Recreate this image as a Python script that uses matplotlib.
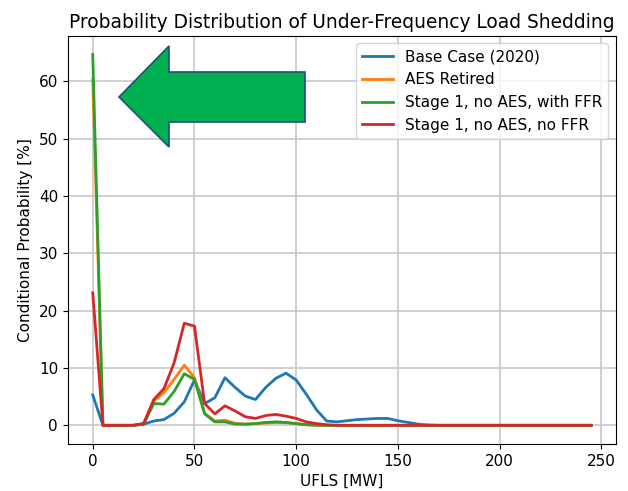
import matplotlib
matplotlib.use('Agg')
import matplotlib.pyplot as plt
from matplotlib.patches import Polygon

ufls = list(range(0, 250, 5))

base = [5.3, 0, 0, 0, 0, 0.2, 0.75, 1.0, 2.1, 4.1, 7.9, 3.8, 4.8, 8.3, 6.6, 5.1, 4.5, 6.6, 8.2, 9.1,
        7.9, 5.4, 2.7, 0.75, 0.6, 0.8, 1.0, 1.1, 1.2, 1.2, 0.8, 0.5, 0.2, 0.05] + [0] * 16
aes = [60.5, 0, 0, 0, 0, 0.3, 4.2, 5.7, 8.0, 10.5, 8.3, 2.1, 0.75, 0.9, 0.35, 0.2, 0.3, 0.4, 0.5, 0.45,
       0.3, 0.1, 0.05] + [0] * 27
ffr = [64.7, 0, 0, 0, 0, 0.2, 3.8, 3.7, 5.9, 9.0, 8.0, 2.0, 0.6, 0.6, 0.2, 0.2, 0.3, 0.5, 0.6, 0.5,
       0.3, 0.1] + [0] * 28
noffr = [23.1, 0, 0, 0, 0, 0.3, 4.5, 6.4, 10.9, 17.8, 17.3, 3.8, 2.0, 3.4, 2.5, 1.5, 1.2, 1.7, 1.9, 1.6,
         1.2, 0.6, 0.3, 0.1] + [0] * 26

fig = plt.figure(figsize=(6.28, 4.91), dpi=100)
ax = fig.add_axes([0.108, 0.096, 0.873, 0.831])

ax.plot(ufls, base, label='Base Case (2020)', color='#1f77b4', lw=2)
ax.plot(ufls, aes, label='AES Retired', color='#ff7f0e', lw=2)
ax.plot(ufls, ffr, label='Stage 1, no AES, with FFR', color='#2ca02c', lw=2)
ax.plot(ufls, noffr, label='Stage 1, no AES, no FFR', color='#d62728', lw=2)

ax.set_xticks([0, 50, 100, 150, 200, 250])
ax.set_yticks([0, 10, 20, 30, 40, 50, 60])
ax.grid(True, color='#c8c8c8', lw=1.2)
ax.tick_params(labelsize=11)
ax.set_title('Probability Distribution of Under-Frequency Load Shedding', fontsize=13.4)
ax.set_xlabel('UFLS [MW]', fontsize=11, labelpad=4)
ax.set_ylabel('Conditional Probability [%]', fontsize=11)
ax.legend(loc='upper right', fontsize=11)

# big green arrow (figure pixels, origin bottom-left)
H = 491
pts = [(119, 97), (169, 46), (169, 72), (305, 72), (305, 122), (169, 122), (169, 147)]
pts = [(x / 628, (H - y) / H) for x, y in pts]
fig.patches.append(Polygon(pts, closed=True, facecolor='#00b050', edgecolor='#1f4e79',
                           lw=1.2, transform=fig.transFigure, zorder=5))

fig.savefig('out.png', dpi=100)
